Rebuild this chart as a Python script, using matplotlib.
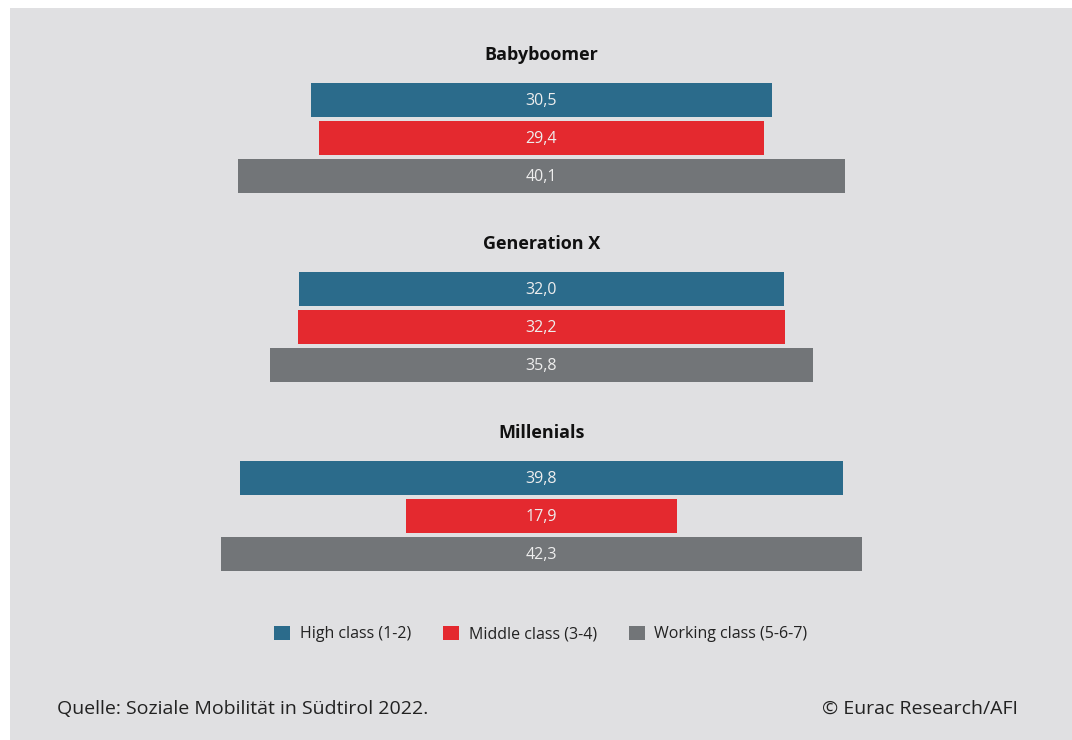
import matplotlib.pyplot as plt
from matplotlib.patches import Patch

plt.rcParams['font.family'] = ['Open Sans', 'DejaVu Sans']

# data
generations = ["Babyboomer", "Generation X", "Millenials"]
classes = ["High class (1-2)", "Middle class (3-4)", "Working class (5-6-7)"]
high = [30.5, 32.0, 39.8]
middle = [29.4, 32.2, 17.9]
working = [40.1, 35.8, 42.3]

colors = ["#2b6b8b", "#e4292f", "#727578"]
bg = "#e0e0e2"

W, H = 1072, 740
fig = plt.figure(figsize=(W / 100, H / 100), dpi=100)
fig.patch.set_facecolor("white")

# gray panel covering the figure except a small white margin at top/left
ax = fig.add_axes([10 / W, 0, 1 - 10 / W, 1 - 8 / H])
ax.set_facecolor(bg)
for s in ax.spines.values():
    s.set_visible(False)
ax.set_xticks([])
ax.set_yticks([])

# x in data units (centred at 0), y in pixel rows
px_per_unit = 15.14
ax.set_xlim(-(541.5 - 10) / px_per_unit, (W - 541.5) / px_per_unit)
ax.set_ylim(H, 8)

series = [high, middle, working]
for g, gen in enumerate(generations):
    top = 100 + 189 * g
    ax.text(0, top - 45, gen, ha="center", va="center", fontsize=13,
            fontweight="bold", color="#111111")
    for r, vals in enumerate(series):
        v = vals[g]
        y = top + 38 * r
        ax.barh(y, v, left=-v / 2, height=34, color=colors[r])
        ax.text(0, y + 1, f"{v:.1f}".replace(".", ","), ha="center", va="center",
                fontsize=11.5, color="#eeeeee")

handles = [Patch(facecolor=c, edgecolor="none") for c in colors]
leg = ax.legend(handles, classes, loc="center", ncol=3, frameon=False,
                fontsize=11.5, handlelength=1.0, handleheight=1.0,
                handletextpad=0.6, columnspacing=2.0)
leg.set_bbox_to_anchor((541 / W, 1 - 634 / H), transform=fig.transFigure)
for t in leg.get_texts():
    t.set_color("#222222")

fig.text(57 / W, 1 - 709 / H, "Quelle: Soziale Mobilität in Südtirol 2022.",
         ha="left", va="center", fontsize=14, color="#222222")
fig.text(1018 / W, 1 - 709 / H, "© Eurac Research/AFI",
         ha="right", va="center", fontsize=14, color="#222222")

fig.savefig("out.png", dpi=100, facecolor=fig.get_facecolor())
